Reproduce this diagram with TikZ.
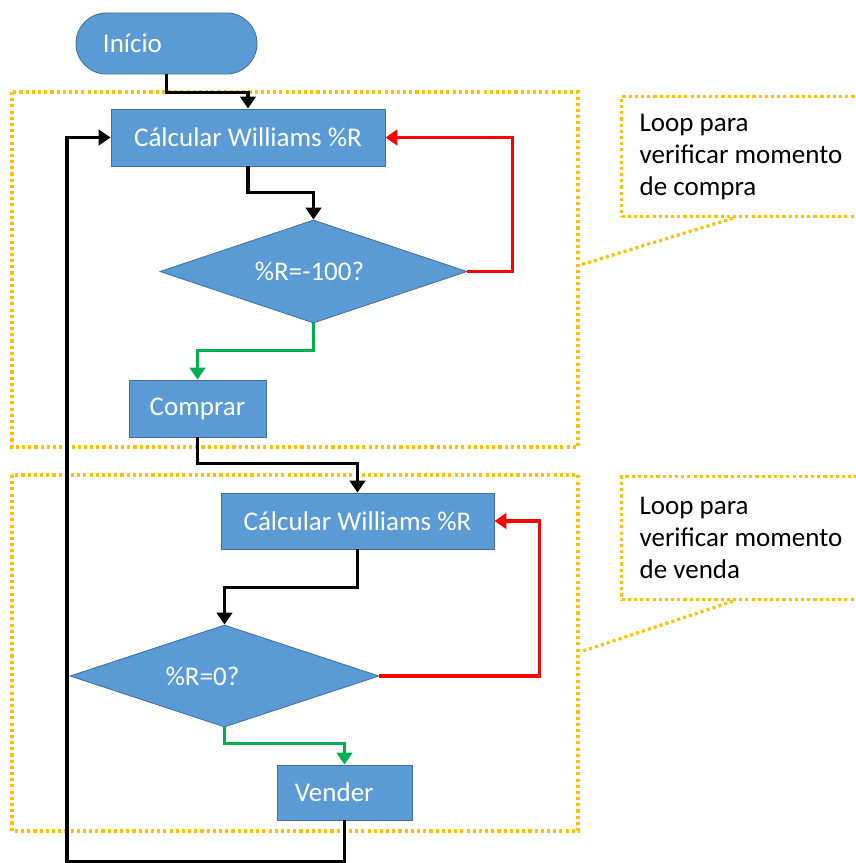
\documentclass[tikz,border=0pt]{standalone}
\usepackage{fontspec}
\setmainfont{Carlito}
\usepackage{tikz}
\usetikzlibrary{shapes.geometric,arrows.meta}
\definecolor{boxblue}{HTML}{5B9BD5}
\definecolor{boxedge}{HTML}{41719C}
\definecolor{zonegold}{HTML}{FFC000}
\definecolor{yesgreen}{HTML}{00B050}
\newcommand{\bigfont}{\fontsize{19.2}{22.8}\selectfont}

\tikzset{
	block/.style={rectangle,draw=boxedge,line width=0.6pt,fill=boxblue,text=white,font=\bigfont},
	decision/.style={block,diamond,aspect=3,inner sep=0pt},
	flow/.style={line width=2.3pt,-{Triangle[width=11pt,length=8.5pt]}},
	zone/.style={draw=zonegold,line width=2.3pt,dash pattern=on 2.2pt off 2.2pt},
	note/.style={zone,rectangle,anchor=north west,align=flush left,text width=6cm,inner xsep=0.45cm,font=\bigfont}
}

\begin{document}
\begin{tikzpicture}[x=0.025cm,y=-0.025cm]
	\clip (0,0) rectangle (856,863);
	% loop zones
	\draw[zone] (12,92) rectangle (578,447);
	\draw[zone] (12,475) rectangle (578,831);
	
	\node[block,rounded corners=0.76cm,align=left,text width=3.175cm,inner xsep=0.675cm,minimum height=1.525cm] (start) at (166.5,43.5) {Início};
	\node[block,minimum width=6.85cm,minimum height=1.425cm] (calcA) at (248,137.5) {Cálcular Williams \%R};
	\node[decision,minimum width=7.675cm,minimum height=2.575cm] (testA) at (313.5,271.5) {\%R=-100?\hspace*{0.2cm}};
	\node[block,minimum width=3.425cm,minimum height=1.425cm] (buy) at (197.5,408.5) {Comprar};
	\node[block,minimum width=6.825cm,minimum height=1.4cm] (calcB) at (357.5,521) {Cálcular Williams \%R};
	\node[decision,minimum width=7.725cm,minimum height=2.55cm] (testB) at (224.5,676) {\%R=0?\hspace*{1.1cm}};
	\node[block,align=left,text width=2.475cm,inner xsep=0.45cm,minimum height=1.375cm] (sell) at (344.5,792.5) {Vender};
	
	\node[note,minimum height=3cm] (noteA) at (620,95) {Loop para\\verificar momento\\de compra};
	\node[note,minimum height=3.075cm] (noteB) at (620,475) {Loop para\\verificar momento\\de venda};
	\coordinate (tipA) at (580,265);
	\coordinate (tipB) at (580,652);
	\coordinate (back) at (67,862);
	\draw[zone] (noteA.south west) ++(113,0) -- (tipA);
	\draw[zone] (noteB.south west) ++(113,0) -- (tipB);
	
	\draw[flow] (start.south) -- ++(0,18) -| (calcA.north);
	\draw[flow] (calcA.south) -- ++(0,26) -| (testA.north);
	\draw[flow,red] (testA.east) -- ++(45,0) |- (calcA.east);
	\draw[flow,yesgreen] (testA.south) -- ++(0,27) -| (buy.north);
	\draw[flow] (buy.south) -- ++(0,26) -| (calcB.north);
	\draw[flow] (calcB.south) -- ++(0,38) -| (testB.north);
	\draw[flow,red] (testB.east) -- ++(160,0) |- (calcB.east);
	\draw[flow,yesgreen] (testB.south) -- ++(0,16) -| (sell.north);
	\draw[flow] (sell.south) |- (back) |- (calcA.west);
	
\end{tikzpicture}
\end{document}
